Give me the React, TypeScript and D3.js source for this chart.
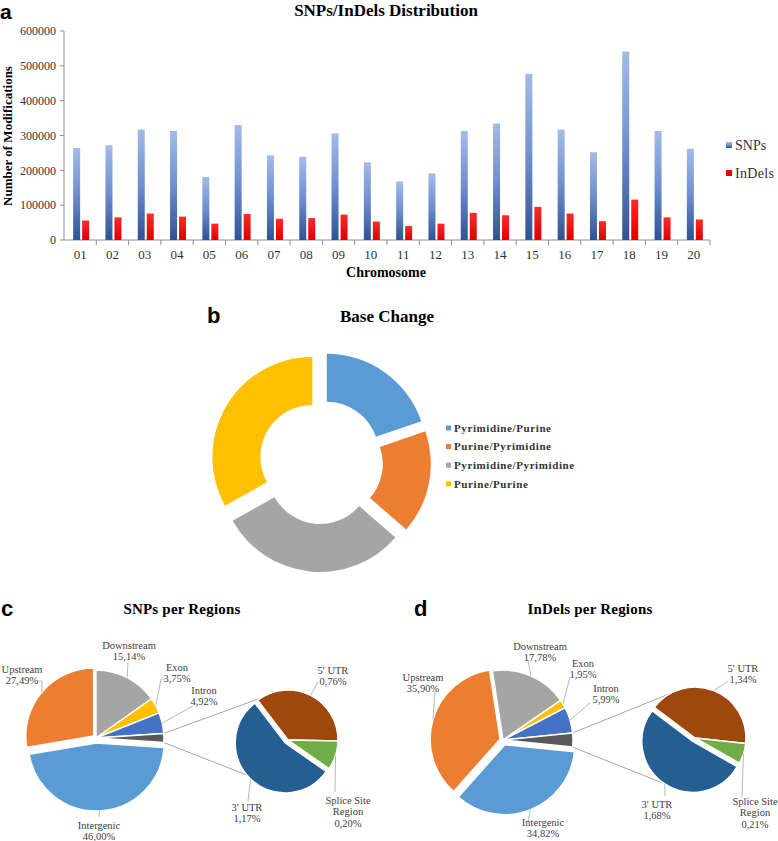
import React from 'react';
import * as d3 from 'd3';

// ---- data ----
const chromosomes = ['01', '02', '03', '04', '05', '06', '07', '08', '09', '10',
  '11', '12', '13', '14', '15', '16', '17', '18', '19', '20'];
const snpCounts = [264000, 272000, 317000, 313000, 181000, 330000, 243000, 239000, 306000, 223000,
  168000, 191000, 313000, 334000, 477000, 317000, 252000, 541000, 313000, 262000];
const indelCounts = [56000, 65000, 76000, 67000, 47000, 75000, 61000, 63000, 73000, 53000,
  40000, 47000, 78000, 71000, 95000, 76000, 54000, 116000, 65000, 59000];
const yTicks = [0, 100000, 200000, 300000, 400000, 500000, 600000];

const baseChangeNames = ['Pyrimidine/Purine', 'Purine/Pyrimidine', 'Pyrimidine/Pyrimidine', 'Purine/Purine'];
const baseChangeValues = [19.7, 16.7, 30.5, 33.1];
const baseChangeColors = ['#5B9BD5', '#ED7D31', '#A5A5A5', '#FFC000'];

const regionNames = ['Downstream', 'Exon', 'Intron', 'Other', 'Intergenic', 'Upstream'];
const regionColors = ['#A5A5A5', '#FFC000', '#4472C4', '#595959', '#5B9BD5', '#ED7D31'];
const detailNames = ["5' UTR", 'Splice Site Region', "3' UTR"];
const detailColors = ['#9E480E', '#70AD47', '#255E91'];

const snpRegionPct = [15.14, 3.75, 4.92, 46.0, 27.49]; // without "Other"
const snpDetailPct = [0.76, 0.2, 1.17];
const indelRegionPct = [17.78, 1.95, 5.99, 34.82, 35.9];
const indelDetailPct = [1.34, 0.21, 1.68];

const serif = '"Liberation Serif", "Times New Roman", serif';
const sans = '"Liberation Sans", Arial, sans-serif';
const labelColor = '#404040';

const fmtPct = (v: number) => v.toFixed(2).replace('.', ',') + '%';
const rad = (deg: number) => (deg * Math.PI) / 180;

function BarPanel() {
  const x = d3.scaleBand().domain(chromosomes).range([64, 710]);
  const y = d3.scaleLinear().domain([0, 600000]).range([240, 31]);
  const bw = x.bandwidth();
  return (
    <g>
      <text x={0} y={19} fontFamily={sans} fontWeight="bold" fontSize={21}>a</text>
      <text x={386} y={16} textAnchor="middle" fontFamily={serif} fontWeight="bold" fontSize={17}>SNPs/InDels Distribution</text>
      <text transform="translate(12,136) rotate(-90)" textAnchor="middle" fontFamily={serif} fontWeight="bold" fontSize={13}>Number of Modifications</text>
      {yTicks.map(t => (
        <g key={t}>
          <line x1={60} x2={64} y1={y(t)} y2={y(t)} stroke="#8C8C8C" />
          <text x={56} y={y(t)} dy="0.35em" textAnchor="end" fontFamily={serif} fontSize={12} fill="#333">{t}</text>
        </g>
      ))}
      <line x1={64} x2={64} y1={y(600000)} y2={y(0)} stroke="#8C8C8C" />
      <line x1={64} x2={710} y1={y(0)} y2={y(0)} stroke="#8C8C8C" />
      {chromosomes.map((c, i) => {
        const cx = (x(c) as number) + bw / 2;
        return (
          <g key={c}>
            <line x1={(x(c) as number) + bw} x2={(x(c) as number) + bw} y1={y(0)} y2={y(0) + 5} stroke="#8C8C8C" />
            <rect x={cx - 7} y={y(snpCounts[i])} width={7} height={y(0) - y(snpCounts[i])} fill="url(#snpGrad)" />
            <rect x={cx + 2} y={y(indelCounts[i])} width={7} height={y(0) - y(indelCounts[i])} fill="url(#indelGrad)" />
            <text x={cx} y={254} dy="0.35em" textAnchor="middle" fontFamily={serif} fontSize={13} fill="#333">{c}</text>
          </g>
        );
      })}
      <text x={386} y={277} textAnchor="middle" fontFamily={serif} fontWeight="bold" fontSize={14}>Chromosome</text>
      <rect x={726} y={142} width={6} height={6} fill="url(#snpGrad)" />
      <text x={735} y={145} dy="0.35em" fontFamily={serif} fontSize={14} fill="#333">SNPs</text>
      <rect x={726} y={170} width={6} height={6} fill="#EE0000" />
      <text x={735} y={173} dy="0.35em" fontFamily={serif} fontSize={14} fill="#333" letterSpacing={0.3}>InDels</text>
    </g>
  );
}

function DonutPanel() {
  const cx = 321, cy = 462, R = 100, r0 = 52, explode = 10;
  const pie = d3.pie<number>().sort(null).value(d => d);
  const arc = d3.arc<d3.PieArcDatum<number>>().innerRadius(r0).outerRadius(R);
  const arcs = pie(baseChangeValues);
  return (
    <g>
      <text x={207} y={323} fontFamily={sans} fontWeight="bold" fontSize={22}>b</text>
      <text x={387} y={322} textAnchor="middle" fontFamily={serif} fontWeight="bold" fontSize={17}>Base Change</text>
      {arcs.map((a, i) => {
        const m = (a.startAngle + a.endAngle) / 2;
        return (
          <path key={i} d={arc(a) as string} fill={baseChangeColors[i]}
            transform={`translate(${cx + explode * Math.sin(m)},${cy - explode * Math.cos(m)})`} />
        );
      })}
      {baseChangeNames.map((n, i) => (
        <g key={n}>
          <rect x={446} y={425.5 + i * 18.6} width={5} height={5} fill={baseChangeColors[i]} />
          <text x={454} y={428 + i * 18.6} dy="0.35em" fontFamily={serif} fontWeight="bold" fontSize={11} letterSpacing={0.6} fill="#333">{n}</text>
        </g>
      ))}
    </g>
  );
}

type Lab = { x: number; y: number; lead: [number, number][] } | null;
type PanelLayout = {
  letter: string; letterX: number; title: string; titleX: number;
  main: { cx: number; cy: number; r: number }; sec: { cx: number; cy: number; r: number };
  conn: [number, number];
  mainLabels: Lab[]; secLabels: Lab[];
};

const layoutC: PanelLayout = {
  letter: 'c', letterX: 1, title: 'SNPs per Regions', titleX: 182,
  main: { cx: 96, cy: 738, r: 68 }, sec: { cx: 288, cy: 740, r: 50 },
  conn: [327, 230],
  mainLabels: [
    { x: 129, y: 645, lead: [[128, 662]] },
    { x: 177, y: 667, lead: [[165, 679], [161, 679]] },
    { x: 204, y: 690, lead: [[193, 706]] },
    null,
    { x: 99, y: 825, lead: [[99, 817]] },
    { x: 22, y: 669, lead: [[37, 681], [42, 681]] },
  ],
  secLabels: [
    { x: 333, y: 670, lead: [[318, 682]] },
    { x: 348, y: 800, lead: [[335, 792]] },
    { x: 247, y: 807, lead: [[248, 801]] },
  ],
};

const layoutD: PanelLayout = {
  letter: 'd', letterX: 414, title: 'InDels per Regions', titleX: 590,
  main: { cx: 503, cy: 740, r: 70 }, sec: { cx: 695, cy: 738, r: 51 },
  conn: [330, 214],
  mainLabels: [
    { x: 540, y: 646, lead: [[528, 660]] },
    { x: 583, y: 663, lead: [[570, 677]] },
    { x: 606, y: 688, lead: [[590, 703]] },
    null,
    { x: 543, y: 822, lead: [[528, 822]] },
    { x: 423, y: 677, lead: [[435, 691]] },
  ],
  secLabels: [
    { x: 743, y: 668, lead: [[728, 681]] },
    { x: 755, y: 801, lead: [[742, 797]] },
    { x: 657, y: 804, lead: [[665, 796]] },
  ],
};

const mainExplode = [0, 0, 0, 0, 5, 3];
const secExplode = [0, 0, 4];

function PieOfPie({ layout, regionPct, detailPct }: { layout: PanelLayout; regionPct: number[]; detailPct: number[] }) {
  const other = d3.sum(detailPct);
  const mainValues = [...regionPct.slice(0, 3), other, ...regionPct.slice(3)];
  const total = d3.sum(mainValues);
  const before = d3.sum(mainValues.slice(0, 3));
  const start = rad(90 - ((before + other / 2) / total) * 360);
  const mainArcs = d3.pie<number>().sort(null).value(d => d)
    .startAngle(start).endAngle(start + 2 * Math.PI)(mainValues);

  const secStart = rad(108 - ((detailPct[0] + detailPct[1] / 2) / other) * 360);
  const secArcs = d3.pie<number>().sort(null).value(d => d)
    .startAngle(secStart).endAngle(secStart + 2 * Math.PI)(detailPct);

  const { main, sec } = layout;
  const mainArc = d3.arc<d3.PieArcDatum<number>>().innerRadius(0).outerRadius(main.r);
  const secArc = d3.arc<d3.PieArcDatum<number>>().innerRadius(0).outerRadius(sec.r);

  const off = (a: d3.PieArcDatum<number>, e: number) => {
    const m = (a.startAngle + a.endAngle) / 2;
    return [e * Math.sin(m), -e * Math.cos(m)];
  };
  const edge = (c: { cx: number; cy: number; r: number }, a: d3.PieArcDatum<number>, e: number, ang?: number) => {
    const m = ang ?? (a.startAngle + a.endAngle) / 2;
    const [ox, oy] = off(a, e);
    return [c.cx + ox + c.r * Math.sin(m), c.cy + oy - c.r * Math.cos(m)];
  };

  const o = mainArcs[3];
  const p1 = edge(main, o, 0, o.startAngle);
  const p2 = edge(main, o, 0, o.endAngle);
  const q1 = [sec.cx + sec.r * Math.sin(rad(layout.conn[0])), sec.cy - sec.r * Math.cos(rad(layout.conn[0]))];
  const [bx, by] = off(secArcs[2], secExplode[2]);
  const q2 = [sec.cx + bx + sec.r * Math.sin(rad(layout.conn[1])), sec.cy + by - sec.r * Math.cos(rad(layout.conn[1]))];

  const line = d3.line();

  const renderLabel = (lab: Lab, lines: string[], target: number[], key: string) => {
    if (!lab) return null;
    const pts = [...lab.lead, target as [number, number]];
    return (
      <g key={key}>
        <path d={line(pts) as string} fill="none" stroke="#A6A6A6" strokeWidth={0.8} />
        {lines.map((t, k) => (
          <text key={k} x={lab.x} y={lab.y + k * 11.5} dy="0.35em" textAnchor="middle"
            fontFamily={serif} fontSize={10.5} fill={labelColor}>{t}</text>
        ))}
      </g>
    );
  };

  return (
    <g>
      <text x={layout.letterX} y={616} fontFamily={sans} fontWeight="bold" fontSize={22}>{layout.letter}</text>
      <text x={layout.titleX} y={614} textAnchor="middle" fontFamily={serif} fontWeight="bold" fontSize={15} letterSpacing={0.2}>{layout.title}</text>
      <line x1={p1[0]} y1={p1[1]} x2={q1[0]} y2={q1[1]} stroke="#A6A6A6" strokeWidth={1} />
      <line x1={p2[0]} y1={p2[1]} x2={q2[0]} y2={q2[1]} stroke="#A6A6A6" strokeWidth={1} />
      {mainArcs.map((a, i) => {
        const [ox, oy] = off(a, mainExplode[i]);
        return <path key={i} d={mainArc(a) as string} fill={regionColors[i]} stroke="#fff" strokeWidth={1.5}
          strokeLinejoin="round" transform={`translate(${main.cx + ox},${main.cy + oy})`} />;
      })}
      {secArcs.map((a, i) => {
        const [ox, oy] = off(a, secExplode[i]);
        return <path key={i} d={secArc(a) as string} fill={detailColors[i]} stroke="#fff" strokeWidth={1.5}
          strokeLinejoin="round" transform={`translate(${sec.cx + ox},${sec.cy + oy})`} />;
      })}
      {mainArcs.map((a, i) => renderLabel(layout.mainLabels[i], [regionNames[i], fmtPct(mainValues[i])],
        edge(main, a, mainExplode[i]), 'm' + i))}
      {secArcs.map((a, i) => {
        const lines = i === 1 ? ['Splice  Site', 'Region', fmtPct(detailPct[i])] : [detailNames[i], fmtPct(detailPct[i])];
        return renderLabel(layout.secLabels[i], lines, edge(sec, a, secExplode[i]), 's' + i);
      })}
    </g>
  );
}

export default function App() {
  return (
    <div style={{ position: 'absolute', left: 0, top: 0 }}>
      <svg width={778} height={841} style={{ display: 'block', background: '#fff' }}>
        <defs>
          <linearGradient id="snpGrad" x1="0" y1="0" x2="0" y2="1">
            <stop offset="0" stopColor="#A3BBE8" />
            <stop offset="0.5" stopColor="#6F8FCF" />
            <stop offset="1" stopColor="#2E5293" />
          </linearGradient>
          <linearGradient id="indelGrad" x1="0" y1="0" x2="0" y2="1">
            <stop offset="0" stopColor="#FF2A2A" />
            <stop offset="1" stopColor="#DD0000" />
          </linearGradient>
        </defs>
        <BarPanel />
        <DonutPanel />
        <PieOfPie layout={layoutC} regionPct={snpRegionPct} detailPct={snpDetailPct} />
        <PieOfPie layout={layoutD} regionPct={indelRegionPct} detailPct={indelDetailPct} />
      </svg>
    </div>
  );
}
